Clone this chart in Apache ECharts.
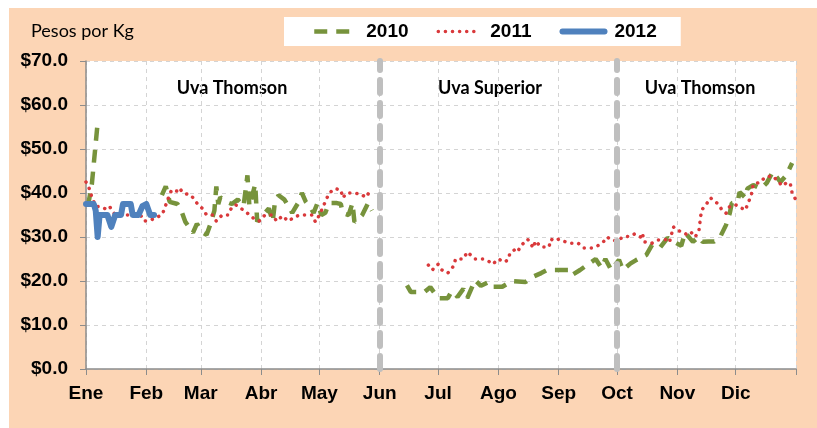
<!DOCTYPE html>
<html lang="es" style="height: 100%">
<head>
  <meta charset="utf-8">
</head>
<body style="height: 100%; margin: 0; background: #fff">
  <div id="container" style="width: 817px; height: 428px"></div>

  <script type="text/javascript" src="https://cdn.jsdelivr.net/npm/echarts@6.0.0/dist/echarts.min.js"></script>
  <script type="text/javascript">
    // month names and the day-of-year where each month starts (non-leap year)
    var monthNames = ['Ene', 'Feb', 'Mar', 'Abr', 'May', 'Jun', 'Jul', 'Ago', 'Sep', 'Oct', 'Nov', 'Dic'];
    var monthStarts = [0, 31, 59, 90, 120, 151, 181, 212, 243, 273, 304, 334, 365];

    // season dividers (Jun 1, Oct 1)
    var seasonBreaks = [151, 273];
    var seasonNames = ['Uva Thomson', 'Uva Superior', 'Uva Thomson'];

    // [day of year, pesos per kg]; null breaks the line
    var data2010 = [
      [1, 37], [3, 42], [6, 56], [20, null],
      [39, 39.5], [41, 41.5], [43, 38], [47, 37.5], [49, 36], [51, 33.5], [55, 31], [57, 33],
      [60, 31], [62, 30.5], [64, 33], [66, 36], [67, 41.5], [68, 37.5], [69, 39], [72, 38],
      [75, 37.5], [78, 38.5], [81, 37], [83, 44], [84, 37], [87, 42], [88, 33.5], [91, 35],
      [94, 36.5], [96, 33.5], [97, 37.5], [99, 39.5], [102, 38.5], [104, 37], [106, 35.5],
      [109, 37.7], [111, 40], [113, 38], [115, 37], [117, 35.5], [119, 37.7], [121, 35],
      [123, 35.5], [125, 37.7], [129, 37.7], [131, 37.5], [132, 35.4], [135, 35], [137, 37.7],
      [138, 33.4], [141, 34.5], [142, 35], [145, 37.7], [147, 36], [156, null],
      [165, 19], [167, 17.5], [170, 17.5], [174, 17.5], [177, 18.6], [181, 16.1], [186, 16.1],
      [188, 17.7], [191, 16.4], [194, 18.2], [196, 16.1], [200, 20.2], [203, 18.9], [207, 19.8],
      [209, 18.7], [214, 18.7], [219, 20], [226, 19.8], [230, 21], [234, 21.8], [237, 22.5],
      [243, 22.5], [249, 22.5], [250, 21.4], [254, 22.5], [262, 25], [265, 23], [267, 25],
      [270, 22.5], [274, 24.8], [276, 22.5], [280, 24], [283, 24.8], [288, 25.9], [291, 28.2],
      [295, 27.5], [299, 29.8], [304, 28.5], [306, 28], [308, 31], [312, 28.9], [315, 30],
      [317, 28.9], [320, 29], [323, 29], [326, 30], [329, 32.7], [331, 35.5], [332, 37.7],
      [335, 38], [336, 40.2], [339, 38.9], [340, 41], [343, 41.8], [347, 41], [350, 42.3],
      [353, 44.8], [357, 42.5], [360, 44], [363, 46.8]
    ];

    var data2011 = [
      [0, 42.5], [2, 40.7], [3, 39], [5, 37], [8, 36.8], [10, 36.4], [12, 37], [15, 35],
      [21, 35], [24, 35], [28, 35], [30, 33.6], [34, 34], [39, 35], [40, 36], [42, 38.5],
      [44, 40.7], [47, 40.4], [48, 41.1], [50, 40], [54, 39.5], [57, 37.7], [58, 37.5],
      [60, 36.4], [62, 35], [65, 35], [67, 33.6], [70, 35], [73, 35], [75, 36.8], [77, 37.3],
      [81, 36.1], [83, 35.4], [86, 34.3], [89, 33.6], [92, 35], [96, 35], [98, 33.6],
      [101, 34.8], [104, 33.6], [107, 34.5], [110, 35], [113, 35], [116, 35], [118, 33.4],
      [120, 35], [125, 40], [128, 41], [131, 40.7], [132, 38.9], [134, 40], [137, 40],
      [141, 39.8], [144, 39], [146, 40.5], [160, null],
      [176, 23.6], [178, 22.5], [181, 23.8], [183, 22.5], [186, 21.8], [187, 22.3], [189, 23.4],
      [190, 25], [194, 25], [196, 26.6], [197, 26.6], [200, 25], [204, 25], [207, 24.5],
      [209, 23.8], [212, 25], [215, 24.3], [217, 24.8], [218, 26.4], [221, 27.3], [222, 26.8],
      [224, 28.2], [227, 29.5], [228, 28.9], [230, 27.5], [231, 29.1], [232, 29.1], [234, 27.7],
      [238, 27.7], [239, 29.5], [241, 29.1], [243, 29.5], [245, 29.1], [249, 28.6], [253, 28.6],
      [256, 27.5], [260, 27.5], [263, 28], [266, 28.9], [268, 30], [270, 29.3], [273, 29.1],
      [276, 30], [280, 30.2], [282, 30.7], [285, 30], [286, 30.9], [287, 28.9], [291, 28.6],
      [294, 29.3], [297, 29.3], [299, 29.5], [300, 28.9], [302, 32.3], [304, 31.5], [307, 31.1],
      [309, 30.5], [311, 31.1], [313, 30], [315, 31.1], [316, 34.8], [317, 36.4], [319, 37.5],
      [321, 38.9], [325, 37.5], [327, 36.1], [329, 35.4], [331, 37], [334, 37.3], [336, 36.8],
      [339, 36.1], [340, 37.3], [342, 39.5], [343, 42], [347, 42.5], [349, 43.6], [353, 43.9],
      [355, 43], [358, 41.6], [360, 42.3], [362, 42.3], [363, 40], [365, 38.4]
    ];

    var data2012 = [
      [0, 37.5], [4, 37.5], [5, 36], [6, 30], [7, 35], [11, 35], [13, 32.3], [15, 35],
      [18, 35], [19, 37.5], [23, 37.5], [24, 35], [27, 35], [29, 37], [31, 37.5], [33, 35],
      [35, 35]
    ];

    var dom = document.getElementById('container');
    var myChart = echarts.init(dom, null, { renderer: 'canvas' });

    var labelFont = 'Liberation Sans, Arial, sans-serif';
    var noteFont = 'Lato, Calibri, sans-serif';

    var option = {
      animation: false,
      backgroundColor: '#ffffff',
      graphic: [
        {
          type: 'rect', z: -10, silent: true,
          shape: { x: 9, y: 8, width: 808, height: 420 },
          style: { fill: '#FCD5B5' }
        },
        {
          type: 'text', left: 31, top: 22,
          style: { text: 'Pesos por Kg', font: '18px ' + noteFont, fill: '#000' }
        }
      ].concat(seasonNames.map(function (name, i) {
        var cx = [232, 490, 700][i];
        return {
          type: 'text', x: cx, y: 88,
          style: {
            text: name, font: 'bold 18px ' + noteFont, fill: '#000',
            align: 'center', verticalAlign: 'middle'
          }
        };
      })),
      legend: {
        data: [
          { name: '2010', lineStyle: { width: 4.5 } },
          { name: '2011', lineStyle: { width: 3.5 } },
          { name: '2012', lineStyle: { width: 6 } }
        ],
        left: 284,
        top: 17,
        padding: [5, 24, 5, 28],
        itemGap: 28,
        itemWidth: 42,
        itemHeight: 21,
        backgroundColor: '#ffffff',
        itemStyle: { opacity: 0 },
        textStyle: {
          fontFamily: labelFont, fontWeight: 'bold', fontSize: 19, color: '#000',
          padding: [0, 0, 0, 5]
        }
      },
      grid: { left: 86, top: 61, right: 21, bottom: 59, show: true, backgroundColor: '#ffffff', borderWidth: 0 },
      xAxis: {
        type: 'value',
        min: 0,
        max: 365,
        axisLine: { lineStyle: { color: '#8c8c8c', width: 1.5 } },
        axisTick: { customValues: monthStarts, length: 6, lineStyle: { color: '#8c8c8c' } },
        axisLabel: {
          customValues: monthStarts.slice(0, 12),
          formatter: function (v) { return monthNames[monthStarts.indexOf(v)]; },
          margin: 15,
          fontFamily: labelFont, fontWeight: 'bold', fontSize: 19, color: '#000'
        },
        splitLine: { show: true, lineStyle: { color: '#d4d4d4', type: [4, 4] } }
      },
      yAxis: {
        type: 'value',
        min: 0,
        max: 70,
        interval: 10,
        axisLine: { show: true, lineStyle: { color: '#8c8c8c', width: 1.5 } },
        axisTick: { show: true, length: 6, lineStyle: { color: '#8c8c8c' } },
        axisLabel: {
          formatter: function (v) { return '$' + v.toFixed(1); },
          margin: 18,
          fontFamily: labelFont, fontWeight: 'bold', fontSize: 19, color: '#000'
        },
        splitLine: { show: true, lineStyle: { color: '#d4d4d4', type: [4, 4] } }
      },
      series: [
        {
          name: 'temporadas',
          type: 'line',
          data: [],
          markLine: {
            silent: true,
            symbol: 'none',
            label: { show: false },
            lineStyle: { color: '#bfbfbf', width: 6, type: [13, 10], cap: 'round' },
            data: seasonBreaks.map(function (d) { return { xAxis: d }; })
          }
        },
        {
          name: '2010',
          type: 'line',
          data: data2010,
          symbol: 'none',
          connectNulls: false,
          color: '#77933C',
          lineStyle: { color: '#77933C', width: 4.5, type: [13, 9] }
        },
        {
          name: '2011',
          type: 'line',
          data: data2011,
          symbol: 'none',
          connectNulls: false,
          color: '#D9393B',
          lineStyle: { color: '#D9393B', width: 3.5, type: [0.1, 7], cap: 'round' }
        },
        {
          name: '2012',
          type: 'line',
          data: data2012,
          symbol: 'none',
          color: '#4F81BD',
          lineStyle: { color: '#4F81BD', width: 6, cap: 'round', join: 'round' }
        }
      ]
    };

    myChart.setOption(option);
    window.addEventListener('resize', myChart.resize);
  </script>
</body>
</html>
